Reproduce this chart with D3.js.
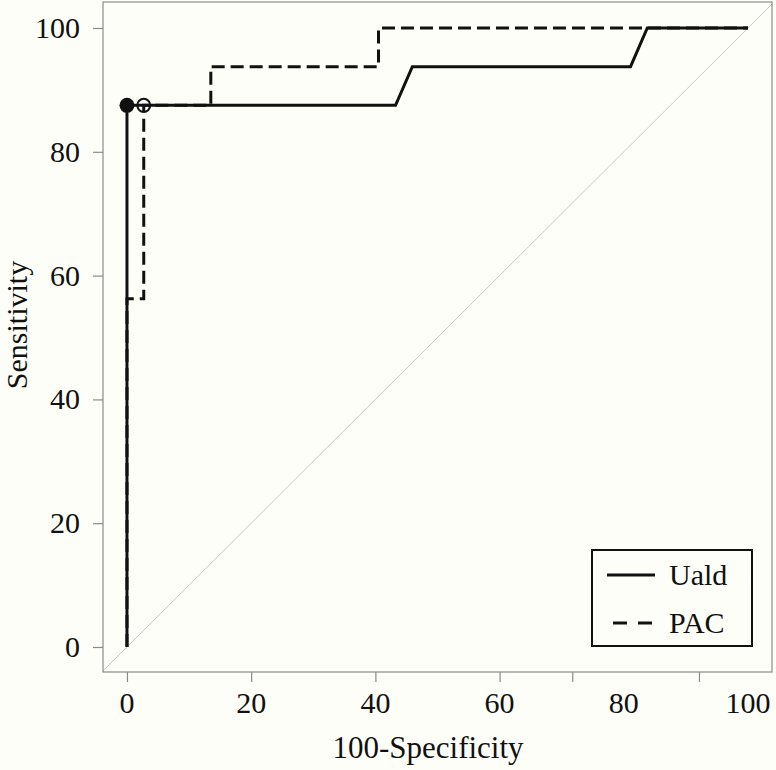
<!DOCTYPE html>
<html>
<head>
<meta charset="utf-8">
<script src="https://cdn.jsdelivr.net/npm/d3@7"></script>
<style>
  body { margin: 0; background: #fefef8; }
  svg { display: block; }
  text { font-family: "Liberation Serif", "Times New Roman", serif; fill: #111; }
</style>
</head>
<body>
<div id="display"></div>
<script>
// ROC curves, x = 100-Specificity, y = Sensitivity
const uald_x = [0, 0, 43.24, 45.95, 81.08, 83.78, 100];
const uald_y = [0, 87.5, 87.5, 93.75, 93.75, 100, 100];
const pac_x = [0, 0, 2.7, 2.7, 13.5, 13.5, 40.5, 40.5, 100];
const pac_y = [0, 56.25, 56.25, 87.5, 87.5, 93.75, 93.75, 100, 100];
// best cut-off points
const uald_point = [0, 87.5];
const pac_point = [2.7, 87.5];

const y_ticks = [0, 20, 40, 60, 80, 100];
const x_tick_labels = [0, 20, 40, 60, 80, 100];
const x_tick_marks = [0, 20, 40, 60, 71.7, 92.1];
const legend_names = ["Uald", "PAC"];

const width = 776, height = 770;
const plot_left = 103, plot_right = 772, plot_top = 2, plot_bottom = 672;

const svg = d3.select("#display").append("svg")
    .attr("width", width)
    .attr("height", height);

svg.append("rect").attr("width", width).attr("height", height).attr("fill", "#fefef8");

const x_scale = d3.scaleLinear().domain([-3.86, 103.86]).range([plot_left, plot_right]);
const y_scale = d3.scaleLinear().domain([-4.04, 104.2]).range([plot_bottom, plot_top]);

svg.append("clipPath").attr("id", "plotclip")
    .append("rect").attr("x", plot_left).attr("y", plot_top)
    .attr("width", plot_right - plot_left).attr("height", plot_bottom - plot_top);

// diagonal reference line
svg.append("line")
    .attr("clip-path", "url(#plotclip)")
    .attr("x1", x_scale(-10)).attr("y1", y_scale(-10))
    .attr("x2", x_scale(110)).attr("y2", y_scale(110))
    .attr("stroke", "#c8c8c8").attr("stroke-width", 1);

// axes (tick marks only, labels drawn separately)
const gX = svg.append("g").attr("transform", `translate(0,${plot_bottom})`)
    .call(d3.axisBottom(x_scale).tickValues(x_tick_marks).tickSize(10).tickFormat(""));
const gY = svg.append("g").attr("transform", `translate(${plot_left},0)`)
    .call(d3.axisLeft(y_scale).tickValues(y_ticks).tickSize(10).tickFormat(""));
[gX, gY].forEach(g => {
    g.select(".domain").remove();
    g.selectAll(".tick line").attr("stroke", "#8a8a8a").attr("stroke-width", 1.2);
});

svg.selectAll(".xlab").data(x_tick_labels).enter().append("text")
    .attr("class", "xlab")
    .attr("x", d => x_scale(d)).attr("y", 713)
    .attr("text-anchor", "middle").attr("font-size", 30)
    .text(d => d);

svg.selectAll(".ylab").data(y_ticks).enter().append("text")
    .attr("class", "ylab")
    .attr("x", 80).attr("y", d => y_scale(d) + 10)
    .attr("text-anchor", "end").attr("font-size", 30)
    .text(d => d);

svg.append("text").attr("x", 428).attr("y", 758)
    .attr("text-anchor", "middle").attr("font-size", 31)
    .text("100-Specificity");

svg.append("text")
    .attr("transform", `translate(27,${(plot_top + plot_bottom) / 2 - 12}) rotate(-90)`)
    .attr("text-anchor", "middle").attr("font-size", 30)
    .text("Sensitivity");

// plot box
svg.append("rect")
    .attr("x", plot_left).attr("y", plot_top)
    .attr("width", plot_right - plot_left).attr("height", plot_bottom - plot_top)
    .attr("fill", "none").attr("stroke", "#8a8a8a").attr("stroke-width", 1.2);

const line = d3.line().x(d => x_scale(d[0])).y(d => y_scale(d[1]));

svg.append("path")
    .attr("d", line(pac_x.map((d, i) => [d, pac_y[i]])))
    .attr("fill", "none").attr("stroke", "#111").attr("stroke-width", 3)
    .attr("stroke-dasharray", "13,6");

svg.append("path")
    .attr("d", line(uald_x.map((d, i) => [d, uald_y[i]])))
    .attr("fill", "none").attr("stroke", "#111").attr("stroke-width", 3);

svg.append("circle")
    .attr("cx", x_scale(uald_point[0])).attr("cy", y_scale(uald_point[1]))
    .attr("r", 7.5).attr("fill", "#111");

svg.append("circle")
    .attr("cx", x_scale(pac_point[0])).attr("cy", y_scale(pac_point[1]))
    .attr("r", 6.5).attr("fill", "none").attr("stroke", "#111").attr("stroke-width", 2);

// legend
const lg = svg.append("g");
lg.append("rect").attr("x", 592).attr("y", 550).attr("width", 160).attr("height", 96)
    .attr("fill", "#fefef8").attr("stroke", "#111").attr("stroke-width", 2);
const leg_rows = [575, 623];
legend_names.forEach((name, i) => {
    lg.append("line")
        .attr("x1", i === 0 ? 607 : 613).attr("x2", i === 0 ? 655 : 652)
        .attr("y1", leg_rows[i]).attr("y2", leg_rows[i])
        .attr("stroke", "#111").attr("stroke-width", 3)
        .attr("stroke-dasharray", i === 0 ? null : "14,11");
    lg.append("text").attr("x", 669).attr("y", leg_rows[i] + 10)
        .attr("font-size", 30).text(name);
});
</script>
</body>
</html>
